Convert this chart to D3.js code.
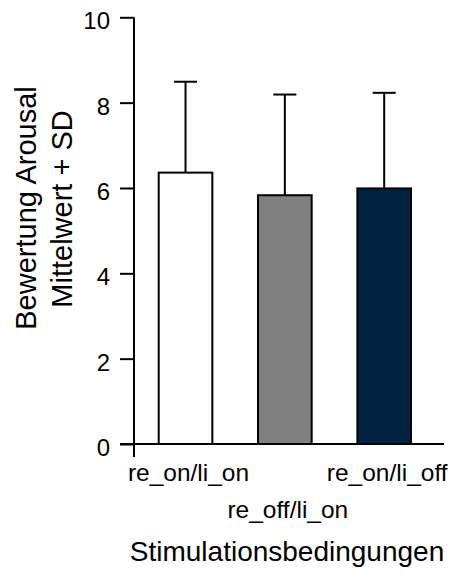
<!DOCTYPE html>
<html>
<head>
<meta charset="utf-8">
<script src="https://cdn.jsdelivr.net/npm/d3@7/dist/d3.min.js"></script>
<style>
  body { margin: 0; background: #fff; }
  text { font-family: "Liberation Sans", Arial, sans-serif; fill: #000; }
</style>
</head>
<body>
<svg width="465" height="574"></svg>
<script>
// data
const categories = ['re_on/li_on', 're_off/li_on', 're_on/li_off'];
const means = [6.36, 5.83, 5.99];
const sds = [2.13, 2.36, 2.24];
const fills = ['#ffffff', '#808080', '#00213f'];
const yTicks = [0, 2, 4, 6, 8, 10];

const svg = d3.select('svg');

const y = d3.scaleLinear()
    .domain([0, 10])
    .range([444, 17.3]);

const x = d3.scaleBand()
    .domain(categories)
    .range([158.7, 411])
    .paddingInner(0.46)
    .paddingOuter(0);

const axisX = 134;

// y axis
const yAxis = d3.axisLeft(y)
    .tickValues(yTicks)
    .tickSize(14)
    .tickPadding(10)
    .tickFormat(d3.format('d'));

const yAxisG = svg.append('g')
    .attr('transform', `translate(${axisX},0)`)
    .call(yAxis);

yAxisG.select('.domain').remove();
yAxisG.selectAll('.tick line')
    .attr('stroke', '#000')
    .attr('stroke-width', 2);
yAxisG.selectAll('.tick text')
    .attr('font-size', '24px')
    .attr('dy', '0.48em')
    .style('font-family', '"Liberation Sans", Arial, sans-serif');

// axis lines (y axis runs a little below 0, x axis starts at the tick end)
svg.append('line')
    .attr('x1', axisX).attr('x2', axisX)
    .attr('y1', y(10)).attr('y2', y(0) + 13)
    .attr('stroke', '#000').attr('stroke-width', 2);

// bars
svg.selectAll('rect.bar').data(means)
  .enter().append('rect')
    .attr('class', 'bar')
    .attr('x', (d, i) => x(categories[i]))
    .attr('y', d => y(d))
    .attr('width', x.bandwidth())
    .attr('height', d => y(0) - y(d))
    .attr('fill', (d, i) => fills[i])
    .attr('stroke', '#000')
    .attr('stroke-width', 2);

svg.append('line')
    .attr('x1', axisX - 14).attr('x2', 444)
    .attr('y1', y(0)).attr('y2', y(0))
    .attr('stroke', '#000').attr('stroke-width', 2);

// error bars (mean + SD only)
const capW = 23;
const err = svg.selectAll('g.err').data(means)
  .enter().append('g')
    .attr('class', 'err')
    .attr('transform', (d, i) => `translate(${x(categories[i]) + x.bandwidth() / 2},0)`);

err.append('line')
    .attr('x1', 0).attr('x2', 0)
    .attr('y1', d => y(d))
    .attr('y2', (d, i) => y(d + sds[i]))
    .attr('stroke', '#000').attr('stroke-width', 2);

err.append('line')
    .attr('x1', -capW / 2).attr('x2', capW / 2)
    .attr('y1', (d, i) => y(d + sds[i]))
    .attr('y2', (d, i) => y(d + sds[i]))
    .attr('stroke', '#000').attr('stroke-width', 2);

// category labels, middle one on a second row
svg.selectAll('text.cat').data(categories)
  .enter().append('text')
    .attr('class', 'cat')
    .attr('x', d => x(d) + x.bandwidth() / 2 + 3)
    .attr('y', (d, i) => i % 2 === 1 ? 517.5 : 481)
    .attr('text-anchor', 'middle')
    .attr('font-size', '24.5px')
    .text(d => d);

// axis titles
svg.append('text')
    .attr('x', 287).attr('y', 561)
    .attr('text-anchor', 'middle')
    .attr('font-size', '28px')
    .text('Stimulationsbedingungen');

svg.append('text')
    .attr('transform', 'translate(36,208) rotate(-90)')
    .attr('text-anchor', 'middle')
    .attr('font-size', '29px')
    .text('Bewertung Arousal');

svg.append('text')
    .attr('transform', 'translate(72,209) rotate(-90)')
    .attr('text-anchor', 'middle')
    .attr('font-size', '29px')
    .text('Mittelwert + SD');
</script>
</body>
</html>
